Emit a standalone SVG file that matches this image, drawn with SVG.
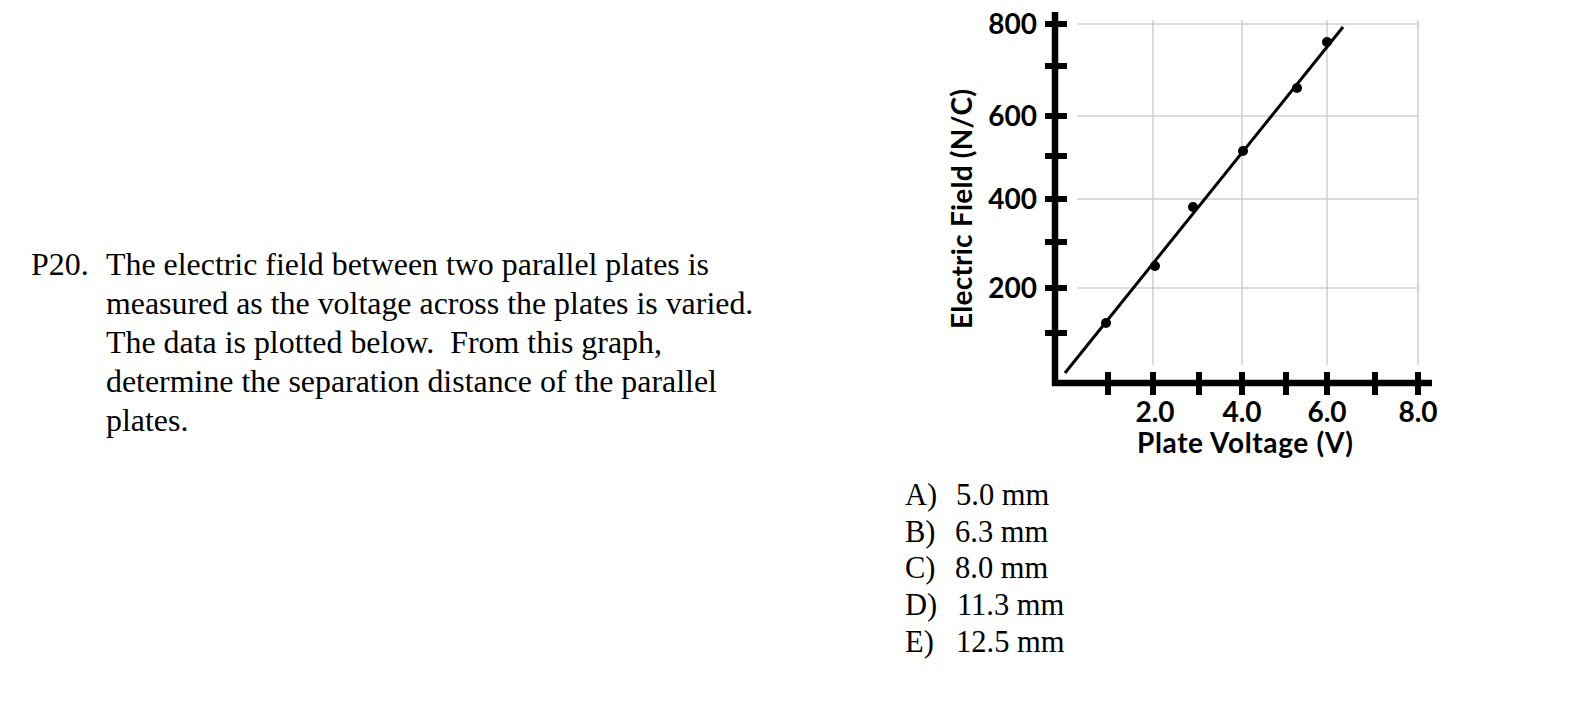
<svg xmlns="http://www.w3.org/2000/svg" width="1590" height="709" viewBox="0 0 1590 709">
<style>
.q{font-family:"Liberation Serif","Times New Roman",serif;font-size:31.9px;fill:#000}
.a{font-family:"Liberation Serif","Times New Roman",serif;font-size:30.5px;fill:#000}
.lbl{font-family:Lato,"Open Sans",sans-serif;font-weight:700;font-size:28px;fill:#000}
.grid{stroke:#d0d0d0;stroke-width:1.5;fill:none}
.axis{stroke:#000;stroke-width:6.5;fill:none}
.tick{stroke:#000;stroke-width:6;fill:none}
.fit{stroke:#000;stroke-width:3;fill:none}
.pt{fill:#000}
</style>
<rect width="1590" height="709" fill="#fff"/>
<g id="question">
<text class="q" x="31" y="275">P20.</text>
<text class="q" x="106" y="275">The electric field between two parallel plates is</text>
<text class="q" x="106" y="314">measured as the voltage across the plates is varied.</text>
<text class="q" x="106" y="353" xml:space="preserve">The data is plotted below.  From this graph,</text>
<text class="q" x="106" y="392">determine the separation distance of the parallel</text>
<text class="q" x="106" y="431">plates.</text>
</g>
<g id="answers">
<text class="a" x="905" y="505">A)</text><text class="a" x="956" y="505">5.0 mm</text>
<text class="a" x="905" y="542">B)</text><text class="a" x="955" y="542">6.3 mm</text>
<text class="a" x="905" y="578">C)</text><text class="a" x="955" y="578">8.0 mm</text>
<text class="a" x="905" y="615">D)</text><text class="a" x="957" y="615">11.3 mm</text>
<text class="a" x="905" y="652">E)</text><text class="a" x="956" y="652">12.5 mm</text>
</g>
<g id="graph">
<g id="gridlines">
<path class="grid" d="M1077 24H1418M1077 116H1418M1077 199H1418M1077 288H1418"/>
<path class="grid" d="M1153 20V365M1242 20V365M1327 20V365M1418 20V365"/>
</g>
<g id="axes">
<path class="axis" d="M1055 12V386M1052 383H1432"/>
<path class="tick" d="M1045 24H1067M1045 66H1067M1045 116H1067M1045 156H1067M1045 199H1067M1045 242H1067M1045 288H1067M1045 333H1067"/>
<path class="tick" d="M1108 372V395M1153 372V395M1199 372V395M1242 372V395M1286 372V395M1327 372V395M1375 372V395M1418 372V395"/>
</g>
<g id="y-labels">
<text class="lbl" x="1037" y="34" text-anchor="end">800</text>
<text class="lbl" x="1037" y="126" text-anchor="end">600</text>
<text class="lbl" x="1037" y="209" text-anchor="end">400</text>
<text class="lbl" x="1037" y="298" text-anchor="end">200</text>
<text class="lbl" transform="translate(972 209) rotate(-90)" text-anchor="middle" textLength="240">Electric Field (N/C)</text>
</g>
<g id="x-labels">
<text class="lbl" x="1155" y="422" text-anchor="middle">2.0</text>
<text class="lbl" x="1242" y="422" text-anchor="middle">4.0</text>
<text class="lbl" x="1327" y="422" text-anchor="middle">6.0</text>
<text class="lbl" x="1418" y="422" text-anchor="middle">8.0</text>
<text class="lbl" x="1245" y="453" text-anchor="middle" textLength="216">Plate Voltage (V)</text>
</g>
<g id="data">
<path class="fit" d="M1065 373L1343 27"/>
<circle class="pt" cx="1106" cy="323" r="5"/>
<circle class="pt" cx="1155" cy="266" r="5"/>
<circle class="pt" cx="1193" cy="207" r="5"/>
<circle class="pt" cx="1243" cy="151" r="5"/>
<circle class="pt" cx="1297" cy="88" r="5"/>
<circle class="pt" cx="1327" cy="42" r="5"/>
</g>
</g>
</svg>
